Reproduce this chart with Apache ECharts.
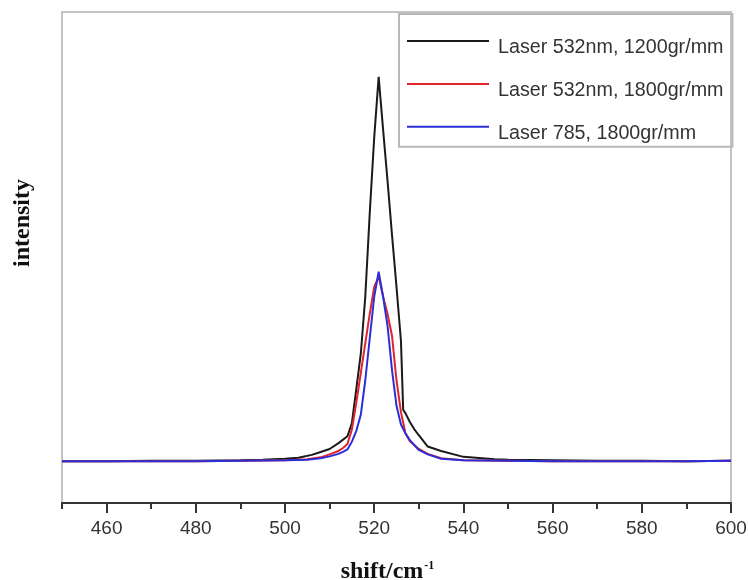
<!DOCTYPE html>
<html>
<head>
<meta charset="utf-8">
<script src="https://cdn.jsdelivr.net/npm/echarts@6/dist/echarts.min.js"></script>
<style>html,body{margin:0;padding:0;background:#fff;}#c{width:748px;height:580px;}</style>
</head>
<body>
<div id="c"></div>
<script>
// ---- data ----
var seriesNames = ['Laser 532nm, 1200gr/mm', 'Laser 532nm, 1800gr/mm', 'Laser 785, 1800gr/mm'];
var blackShift = [450,460,470,480,490,495,500,503,506,508,510,512,514,515,516,517,518,519,520,521,522,523,524,525,526,526.5,527,528,529,530,532,535,540,547,550,560,570,580,590,600];
var blackIntensity = [85,85,86,86,87,88,90,92,98,104,110,122,136,163,233,304,420,590,744,868,760,655,545,440,330,190,183,165,150,138,115,106,94,89,88,87,86,86,85,86];
var redShift = [450,460,470,480,490,500,505,508,510,512,513,514,515,516,517,518,519,520,521,522,523,524,525,526,527,528,530,532,535,540,550,560,570,580,590,600];
var redIntensity = [85,85,85,85,86,87,89,93,99,106,112,120,150,205,265,325,385,440,461,420,385,340,250,185,142,126,110,100,91,87,86,85,85,85,85,86];
var blueShift = [450,460,470,480,490,500,505,508,510,512,513,514,515,516,517,518,519,520,521,522,523,524,525,526,527,528,530,532,535,540,550,560,570,580,590,600];
var blueIntensity = [85,85,85,85,86,87,88,91,95,100,104,109,125,147,180,250,335,420,471,420,360,270,198,160,142,128,108,99,90,87,86,85,85,85,85,86];
var tickLabels = [460,480,500,520,540,560,580,600];
var minorTicks = [450,470,490,510,530,550,570,590];

function pairs(xs, ys) { return xs.map(function (x, i) { return [x, ys[i]]; }); }

var sansFont = '"Liberation Sans", Arial, sans-serif';
var serifFont = '"Liberation Serif", "Times New Roman", serif';

var chart = echarts.init(document.getElementById('c'), null, {renderer: 'canvas'});
chart.setOption({
  animation: false,
  backgroundColor: '#fff',
  grid: {left: 62, right: 17, top: 12, bottom: 77, show: true, borderColor: '#c4c4c4', borderWidth: 2, backgroundColor: 'transparent', outerBoundsMode: 'none', containLabel: false},
  legend: {
    data: seriesNames,
    orient: 'vertical',
    left: 399, top: 14,
    padding: [24, 9, 3, 8],
    itemGap: 22.9,
    itemWidth: 82, itemHeight: 2,
    icon: 'rect',
    borderColor: '#b8b8b8', borderWidth: 2,
    selectedMode: false,
    formatter: function (name) { return '{t|' + name + '}'; },
    textStyle: {
      fontFamily: sansFont, fontSize: 19.7, color: '#333',
      rich: {t: {fontFamily: sansFont, fontSize: 19.7, color: '#333', padding: [14, 0, 0, 4]}}
    }
  },
  xAxis: [{
    type: 'value', min: 450, max: 600, position: 'bottom',
    axisLine: {show: true, lineStyle: {color: '#333', width: 2}},
    axisTick: {show: true, inside: false, length: 10, customValues: tickLabels, lineStyle: {color: '#333', width: 2}},
    axisLabel: {customValues: tickLabels, margin: 16, fontFamily: sansFont, fontSize: 19, color: '#333'},
    splitLine: {show: false},
    name: 'shift/cm{sup|-1}',
    nameLocation: 'middle', nameGap: 57,
    nameTextStyle: {fontFamily: serifFont, fontWeight: 'bold', fontSize: 24, color: '#111', padding: [0, 18, 0, 0],
      rich: {sup: {fontFamily: serifFont, fontWeight: 'bold', fontSize: 12, color: '#111', verticalAlign: 'top', padding: [0, 0, 12, 1]}}}
  }, {
    type: 'value', min: 450, max: 600, position: 'bottom',
    axisLine: {show: false},
    axisTick: {show: true, inside: false, length: 6, customValues: minorTicks, lineStyle: {color: '#333', width: 2}},
    axisLabel: {show: false},
    splitLine: {show: false}
  }],
  yAxis: {
    type: 'value', min: 0, max: 1000,
    axisLine: {show: false}, axisTick: {show: false}, axisLabel: {show: false}, splitLine: {show: false}
  },
  graphic: [{
    type: 'text', left: 11, top: 179,
    rotation: Math.PI / 2,
    style: {text: 'intensity', font: 'bold 24px "Liberation Serif", "Times New Roman", serif', fill: '#111'}
  }],
  series: [
    {name: seriesNames[0], type: 'line', data: pairs(blackShift, blackIntensity), showSymbol: false, symbol: 'none', lineStyle: {color: '#1a1a1a', width: 2}, itemStyle: {color: '#1a1a1a'}},
    {name: seriesNames[1], type: 'line', data: pairs(redShift, redIntensity), showSymbol: false, symbol: 'none', lineStyle: {color: '#e2232b', width: 2}, itemStyle: {color: '#e2232b'}},
    {name: seriesNames[2], type: 'line', data: pairs(blueShift, blueIntensity), showSymbol: false, symbol: 'none', lineStyle: {color: '#2b2fd8', width: 2}, itemStyle: {color: '#2b2fd8'}}
  ]
});
</script>
</body>
</html>
